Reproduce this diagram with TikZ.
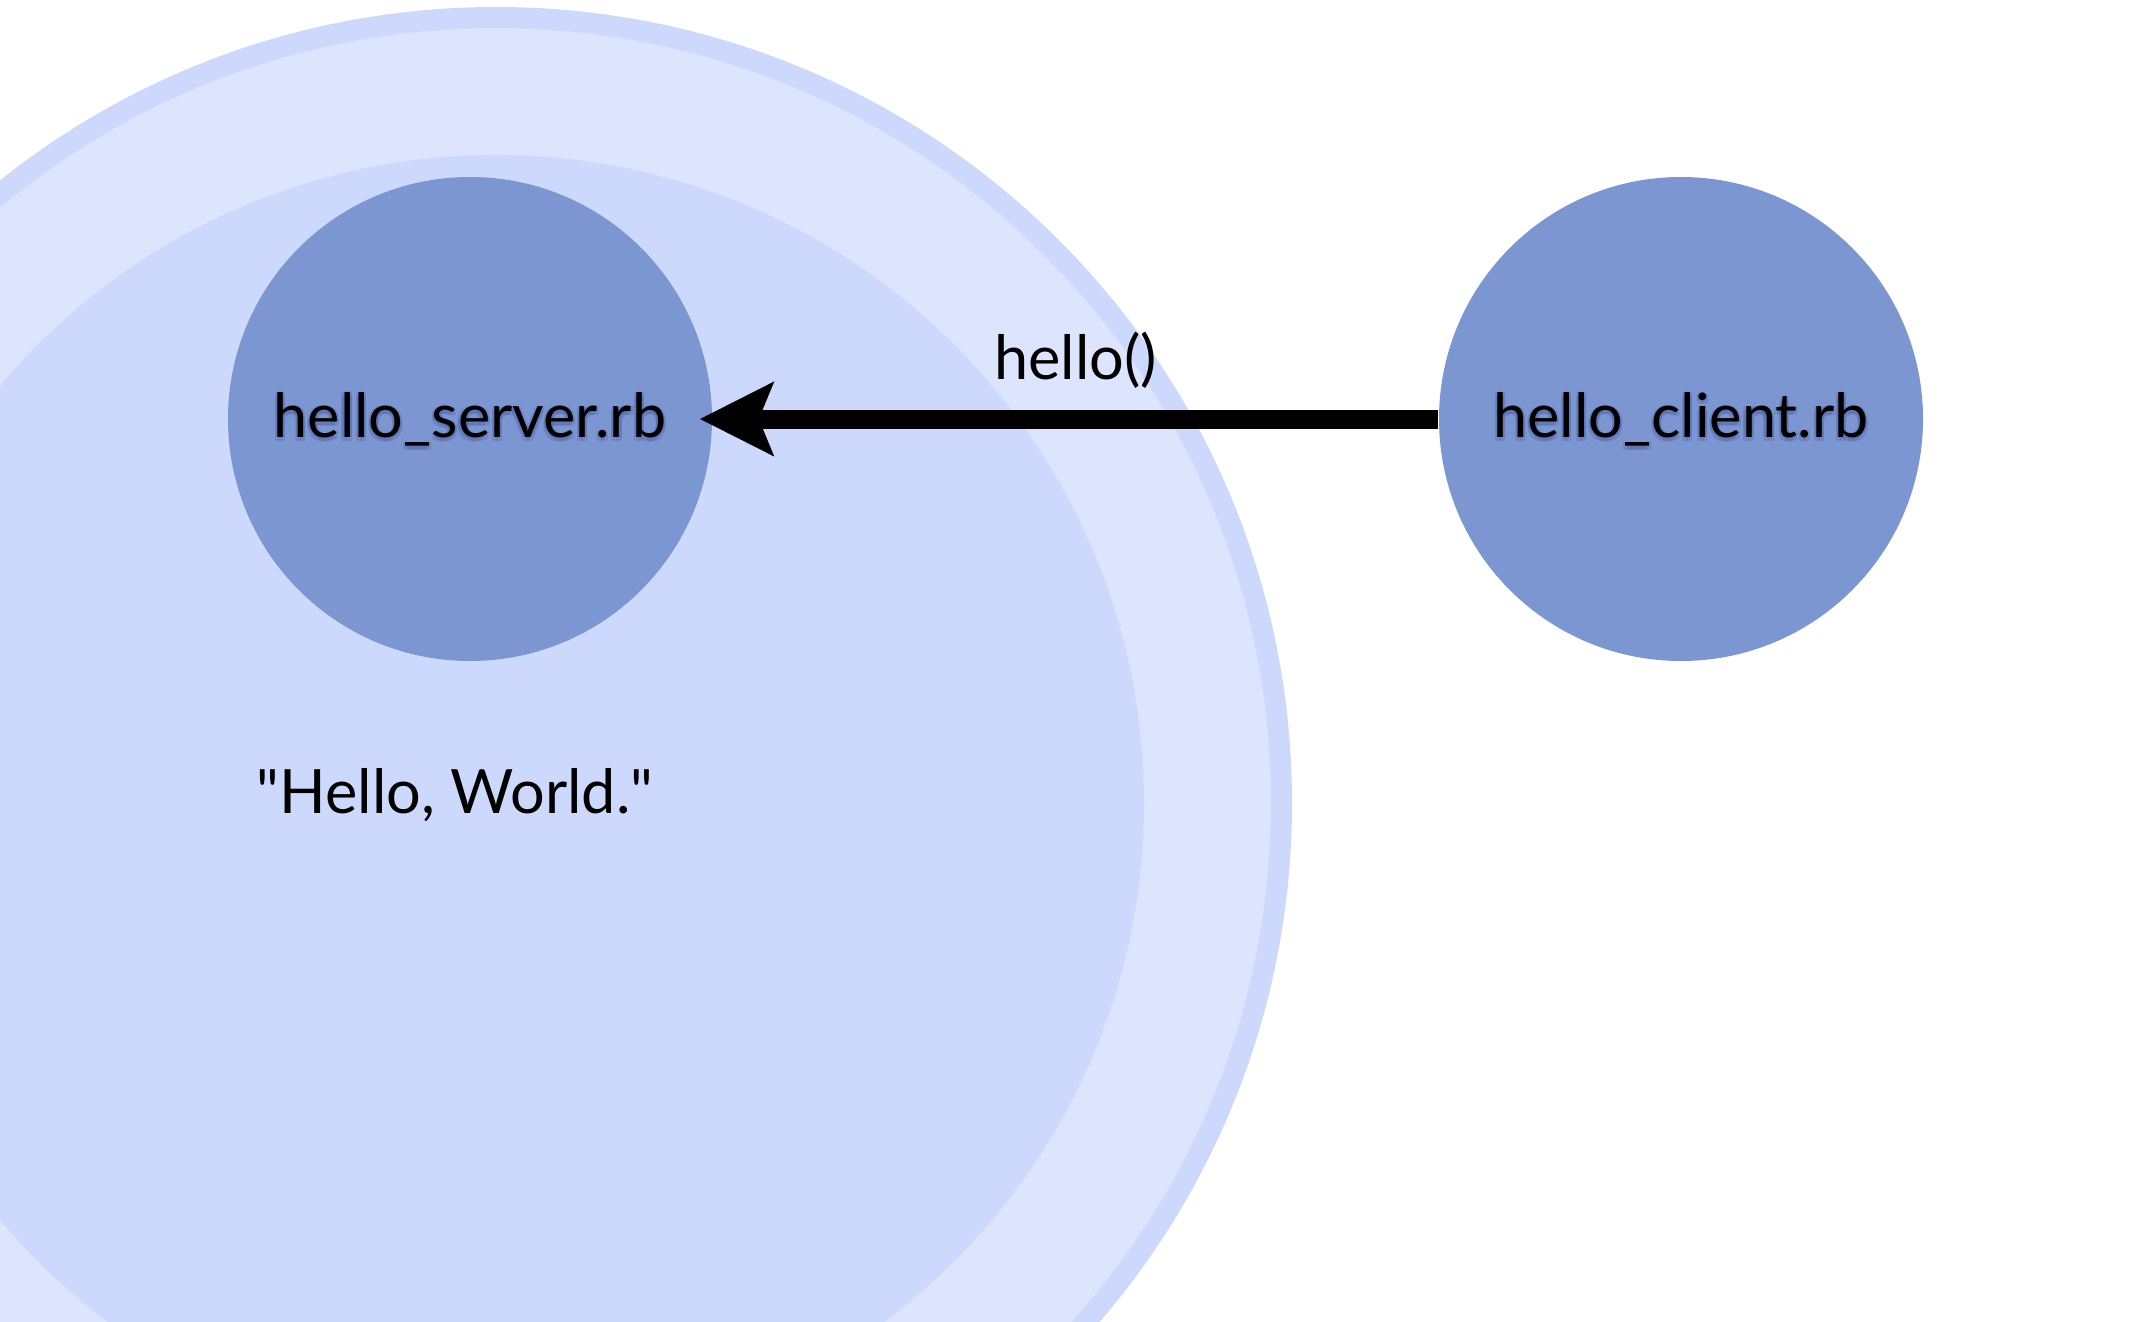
\documentclass[tikz,border=0pt]{standalone}
\usepackage{fontspec}
\setmainfont{Lato}
\usetikzlibrary{arrows.meta,positioning,calc}
\definecolor{paleblue}{HTML}{DCE4FE}
\definecolor{ringblue}{HTML}{CCD9FD}
\definecolor{procblue}{HTML}{7B96D1}
\tikzset{
    txt/.style={font=\fontsize{17.4}{20}\selectfont},
    glow/.style={txt, text=black!70!blue, text opacity=0.1},
    % process circle, its name gets a soft shadow underneath
    proc/.style={circle, fill=procblue, minimum size=4.84cm, inner sep=0pt, txt,
        path picture={
            \foreach \a in {45,135,...,315}
                \node[glow] at ($(path picture bounding box.center)+(\a:0.03)+(0,-0.02)$) {#1};
        }},
    call/.style={-{Stealth[length=7.3mm, width=7.2mm, inset=1.4mm]}, line width=1.9mm, black}
}

\begin{document}
\begin{tikzpicture}
    \useasboundingbox (0,0) rectangle (21.34,13.21);
    % machine and process boundaries
    \begin{scope}
        \clip (0,0) rectangle (21.34,13.21);
        \draw[ringblue, fill=paleblue, line width=2.1mm] (4.96,5.18) circle (7.855);
        \fill[ringblue] (4.96,5.18) circle (6.48);
    \end{scope}
    \node[proc={hello\_server.rb}] (server) at (4.70,9.02) {hello\_server.rb};
    \node[proc={hello\_client.rb}] (client) at (16.81,9.02) {hello\_client.rb};
    \draw[call, shorten >=-1.3mm] (client) -- (server)
        node[txt, midway, anchor=base, yshift=4mm] (msg) {hello()};
    \node[txt, anchor=base] (result) at (4.55,5.08) {\textquotedbl Hello, World.\textquotedbl};
\end{tikzpicture}
\end{document}
